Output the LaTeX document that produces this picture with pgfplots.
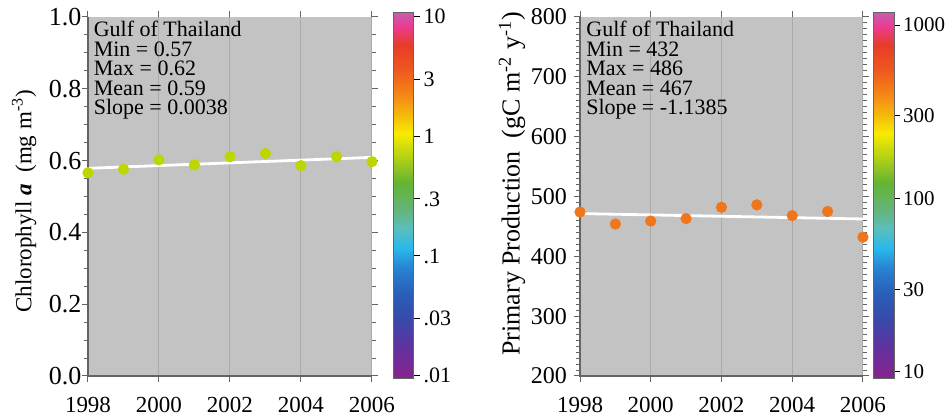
\documentclass[border=0pt]{standalone}
\usepackage{pgfplots}
\pgfplotsset{compat=1.18}
\usepackage{fontspec}
\setmainfont{Liberation Serif}
\definecolor{bgg}{RGB}{195,195,195}
\definecolor{gridc}{RGB}{170,170,170}
\definecolor{axc}{RGB}{100,100,100}
\definecolor{chl}{RGB}{190,214,0}
\definecolor{ppc}{RGB}{240,118,28}
\pgfplotsset{
  colormap={rb}{rgb255(0cm)=(135,35,140) rgb255(0.85cm)=(95,50,160) rgb255(1.66cm)=(55,75,170)
    rgb255(2.3cm)=(40,95,185) rgb255(3cm)=(40,130,210) rgb255(3.54cm)=(40,185,235)
    rgb255(4.08cm)=(90,190,190) rgb255(4.62cm)=(100,180,120) rgb255(5.34cm)=(100,180,50)
    rgb255(6.05cm)=(180,210,20) rgb255(6.68cm)=(248,235,0) rgb255(7.13cm)=(245,190,10)
    rgb255(7.67cm)=(245,140,20) rgb255(8.39cm)=(238,90,30) rgb255(9.1cm)=(232,60,40)
    rgb255(9.64cm)=(235,60,150) rgb255(10cm)=(190,100,170)},
  common/.style={
    scale only axis,
    width=142pt, height=179.5pt,
    anchor=south west,
    xmin=1998, xmax=2006,
    xtick={1998,2000,2002,2004,2006},
    /pgf/number format/assume math mode=true,
    xticklabel style={/pgf/number format/1000 sep={}, font=\fontsize{11.5}{12}\selectfont, yshift=-4.3pt},
    tick align=outside,
    xmajorgrids,
    major grid style={gridc, line width=0.5pt},
    axis background/.style={fill=bgg},
    axis line style={draw=none},
    tick style={axc, line width=0.5pt},
    major tick length=3pt, minor tick length=1.8pt,
    clip=false,
    colormap name=rb,
    colorbar,
  },
  cbstyle/.style={
    at={(parent axis.north east)}, anchor=north west,
    scale only axis, height=183pt,
    xtick=\empty,
    ytick pos=right, yticklabel pos=right,
    tick align=outside,
    minor y tick num=0,
    major tick length=3pt,
    axis line style={draw=axc, line width=0.3pt},
    axis background/.style={},
    tick style={black, line width=0.5pt},
  },
}
\begin{document}
\begin{tikzpicture}
% ---------------- left panel
\begin{axis}[common,
  at={(44pt,20.5pt)},
  ymin=0, ymax=1,
  ytick={0,0.2,0.4,0.6,0.8,1},
  minor y tick num=3,
  yticklabel style={font=\fontsize{13}{14}\selectfont, xshift=3.2pt, /pgf/number format/.cd, fixed, fixed zerofill, precision=1},
  every axis y label/.style={at={(axis description cs:-0.225,0.487)}, rotate=90, anchor=center},
  ylabel={\fontsize{11.5}{12}\selectfont Chlorophyll \textbf{\textit{a}}\ \ (mg m\textsuperscript{-3})},
  point meta min=-2.02, point meta max=1.04,
  colorbar style={cbstyle, xshift=2.3pt, yshift=2.5pt, width=10pt,
    ytick={-2,-1.5229,-1,-0.5229,0,0.4771,1},
    yticklabels={.01,.03,.1,.3,1,3,10},
    yticklabel style={font=\fontsize{11}{12}\selectfont, xshift=-1.5pt}},
]
\addplot[white, line width=1.4pt] coordinates {(1998,0.5785) (2006,0.6089)};
\addplot[only marks, mark=*, mark size=2.6pt, color=chl] coordinates {
(1998,0.566) (1999,0.576) (2000,0.602) (2001,0.588) (2002,0.611)
(2003,0.620) (2004,0.586) (2005,0.611) (2006,0.597)};
\draw[axc, line width=0.6pt] (rel axis cs:0,1) -- (rel axis cs:0,0) -- (rel axis cs:1,0);
\node[anchor=north west, inner sep=0pt, align=left, font=\fontsize{11}{9.75}\selectfont,
  xshift=2.7pt, yshift=-1.9pt] at (rel axis cs:0,1)
  {Gulf of Thailand\\Min = 0.57\\Max = 0.62\\Mean = 0.59\\Slope = 0.0038};
\end{axis}
% ---------------- right panel
\begin{axis}[common,
  at={(290pt,20.5pt)}, width=141.5pt,
  ymin=200, ymax=800,
  ytick={200,300,400,500,600,700,800},
  minor y tick num=9,
  yticklabel style={font=\fontsize{12}{13}\selectfont, xshift=0pt},
  every axis y label/.style={at={(axis description cs:-0.240,0.535)}, rotate=90, anchor=center},
  ylabel={\fontsize{13}{14}\selectfont Primary Production\ \ (gC m\textsuperscript{-2} y\textsuperscript{-1})},
  point meta min=0.965, point meta max=3.075,
  colorbar style={cbstyle, xshift=-3.5pt, yshift=2.5pt, width=10.5pt,
    ytick={1,1.4771,2,2.4771,3},
    yticklabels={10,30,100,300,1000},
    yticklabel style={font=\fontsize{10.5}{12}\selectfont, xshift=-2pt}},
]
\addplot[white, line width=1.4pt] coordinates {(1998,471.5) (2006,462.4)};
\addplot[only marks, mark=*, mark size=2.6pt, color=ppc] coordinates {
(1998,474) (1999,454) (2000,459) (2001,463) (2002,482)
(2003,486) (2004,468) (2005,475) (2006,432)};
\draw[axc, line width=0.6pt] (rel axis cs:0,1) -- (rel axis cs:0,0) -- (rel axis cs:1,0);
\node[anchor=north west, inner sep=0pt, align=left, font=\fontsize{11}{9.75}\selectfont,
  xshift=3pt, yshift=-1.9pt] at (rel axis cs:0,1)
  {Gulf of Thailand\\Min = 432\\Max = 486\\Mean = 467\\Slope = -1.1385};
\end{axis}
\pgfresetboundingbox
\path (0,0) rectangle (475pt,208.5pt);
\end{tikzpicture}
\end{document}
